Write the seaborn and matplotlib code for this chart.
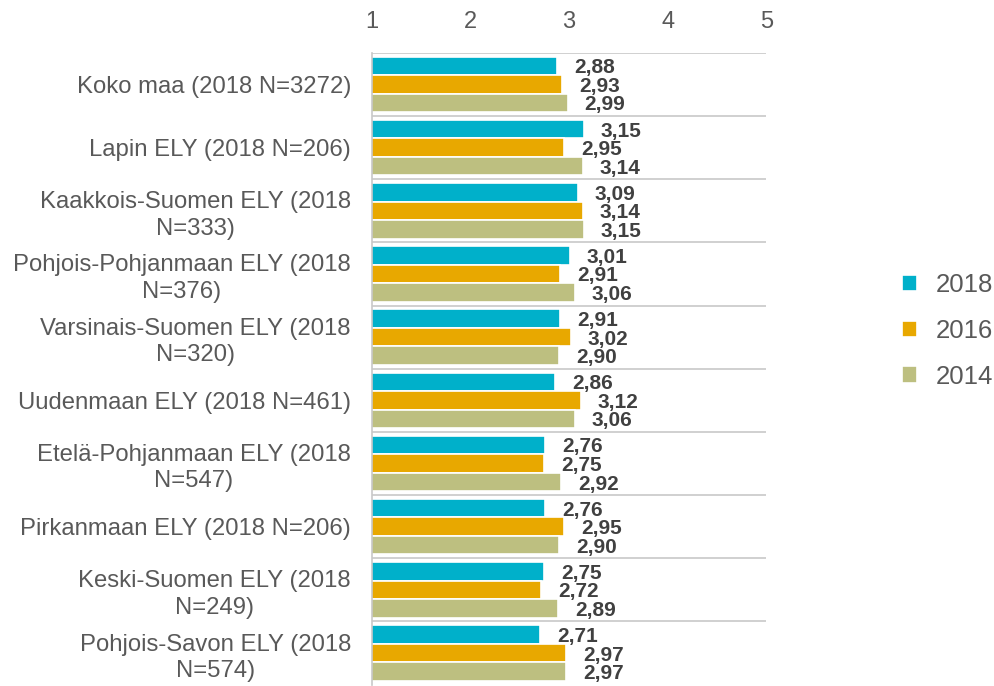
import pandas as pd
import matplotlib.pyplot as plt
import seaborn as sns

# -----------------------------
# Data
# -----------------------------
regions = [
    "Koko maa (2018 N=3272)",
    "Lapin ELY (2018 N=206)",
    "Kaakkois-Suomen ELY (2018\nN=333)",
    "Pohjois-Pohjanmaan ELY (2018\nN=376)",
    "Varsinais-Suomen ELY (2018\nN=320)",
    "Uudenmaan ELY (2018 N=461)",
    "Etelä-Pohjanmaan ELY (2018\nN=547)",
    "Pirkanmaan ELY (2018 N=206)",
    "Keski-Suomen ELY (2018\nN=249)",
    "Pohjois-Savon ELY (2018\nN=574)",
]
years = ["2018", "2016", "2014"]
values_2018 = [2.88, 3.15, 3.09, 3.01, 2.91, 2.86, 2.76, 2.76, 2.75, 2.71]
values_2016 = [2.93, 2.95, 3.14, 2.91, 3.02, 3.12, 2.75, 2.95, 2.72, 2.97]
values_2014 = [2.99, 3.14, 3.15, 3.06, 2.90, 3.06, 2.92, 2.90, 2.89, 2.97]
colors = ["#00B0CA", "#E8A800", "#BDBF80"]

df = pd.DataFrame({
    "region": regions * 3,
    "year": ["2018"] * 10 + ["2016"] * 10 + ["2014"] * 10,
    "value": values_2018 + values_2016 + values_2014,
})

sns.set_style("white")
plt.rcParams["font.family"] = ["Liberation Sans", "DejaVu Sans"]

fig = plt.figure(figsize=(9.94, 6.86), dpi=100)
ax = fig.add_axes([0.374, 0.002, 0.397, 0.921])

sns.barplot(
    data=df, y="region", x="value", hue="year", hue_order=years,
    order=regions, palette=colors, saturation=1, orient="h", width=0.88,
    edgecolor="white", linewidth=1.2, ax=ax,
)

ax.set_xlim(1, 5)
ax.set_ylim(len(regions) - 0.5, -0.5)
ax.xaxis.tick_top()
ax.set_xticks([1, 2, 3, 4, 5])
ax.tick_params(axis="x", length=0, labelsize=17, labelcolor="#595959", pad=14)
ax.tick_params(axis="y", length=0, labelsize=17.2, labelcolor="#595959", pad=15)
ax.set_xlabel("")
ax.set_ylabel("")
for lbl in ax.get_yticklabels():
    lbl.set_linespacing(1.25)
    lbl.set_multialignment("center")

# group separators
for b in range(len(regions)):
    ax.axhline(b - 0.5, color="#C8C8C8", linewidth=1.2, zorder=0)

for side in ["top", "right", "bottom"]:
    ax.spines[side].set_visible(False)
ax.spines["left"].set_color("#C8C8C8")
ax.spines["left"].set_linewidth(1.2)

# value labels
for cont in ax.containers:
    texts = ax.bar_label(
        cont,
        labels=[f"{v.get_width():.2f}".replace(".", ",") for v in cont],
        padding=12, fontsize=15, fontweight="bold", color="#404040",
    )
    for t in texts:
        t.set_verticalalignment("center_baseline")

ax.legend(
    loc="center left", bbox_to_anchor=(1.298, 0.56), frameon=False,
    fontsize=18.5, labelcolor="#595959", handlelength=0.6, handleheight=0.6,
    labelspacing=0.85, handletextpad=0.7, borderpad=0.2,
)

plt.savefig("out.png", dpi=100)
plt.close()
